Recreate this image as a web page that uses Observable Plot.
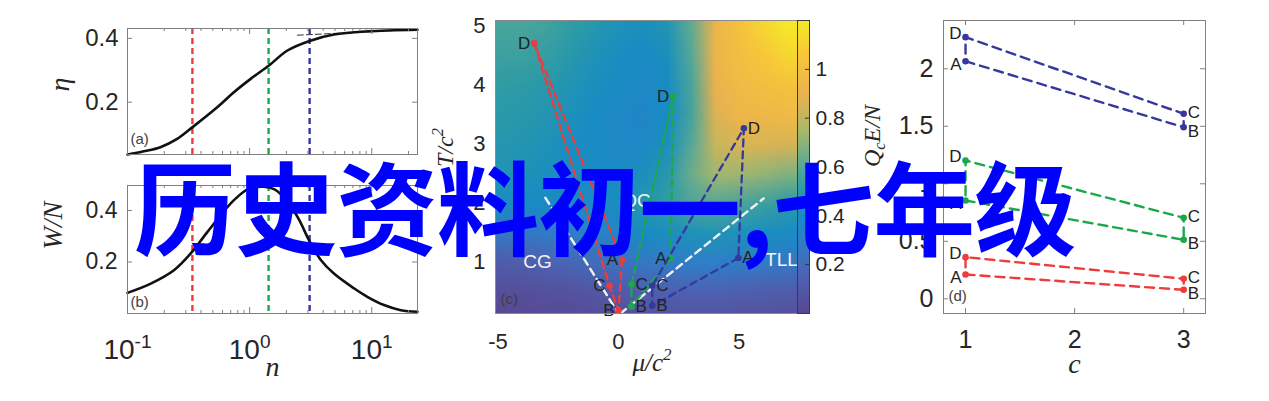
<!DOCTYPE html>
<html><head><meta charset="utf-8">
<script src="https://cdn.jsdelivr.net/npm/d3@7"></script>
<script src="https://cdn.jsdelivr.net/npm/@observablehq/plot@0.6"></script>
<style>
body{margin:0;background:#fff;}
#wrap{position:relative;width:1269px;height:401px;overflow:hidden;background:#fff;}
#wrap svg{position:absolute;left:0;top:0;}
#title{position:absolute;left:134px;top:153px;font-family:"Noto Sans CJK SC";font-weight:700;font-size:102px;letter-spacing:-1px;line-height:1;color:#0000ff;white-space:nowrap;z-index:10;}
</style></head>
<body><div id="wrap"><div id="title">历史资料初一,七年级</div></div>
<script>
// ---------- data ----------
// panel (a): efficiency eta vs n
const nEta = [0.1, 0.136, 0.186, 0.255, 0.339, 0.543, 0.743, 1.02, 1.44, 2.04, 3.1, 4.9, 9.2, 23.7];
const eta  = [0.036, 0.046, 0.059, 0.085, 0.121, 0.184, 0.231, 0.273, 0.315, 0.362, 0.392, 0.412, 0.422, 0.427];
const nAsym = [2.46, 23.7];
const etaAsym = [0.410, 0.428];
// panel (b): work W/N vs n
const nW = [0.1, 0.155, 0.24, 0.339, 0.45, 0.74, 0.98, 1.3, 1.6, 2.0, 2.5, 3.1, 3.8, 4.9, 7.2, 9.2, 12.6, 17.3, 23.7];
const wN = [0.080, 0.116, 0.168, 0.240, 0.316, 0.439, 0.484, 0.492, 0.482, 0.440, 0.370, 0.280, 0.210, 0.155, 0.097, 0.065, 0.033, 0.013, 0.007];
// the three cycles (red, green, blue)
const nCycle = [0.34, 1.43, 3.1];
const stages = ["A", "B", "C", "D"];
const muRed = [0.15, 0.0, -0.37, -3.49],  TRed = [1.03, 0.17, 0.59, 4.70];
const muGreen = [2.16, 0.54, 0.54, 2.27], TGreen = [1.05, 0.24, 0.61, 3.80];
const muBlue = [4.97, 1.40, 1.40, 5.20],  TBlue = [1.06, 0.25, 0.59, 3.26];
const cStage = [1, 3, 3, 1];
const dRed = [0.211, 0.078, 0.174, 0.362];
const dGreen = [0.855, 0.513, 0.704, 1.203];
const dBlue = [2.066, 1.492, 1.609, 2.275];
// panel (c) background map (rows from T=5 down to T=0, columns mu=-5..7)
const heatMu = [-5, -4, -3, -2, -1, 0, 1, 2, 3, 4, 5, 6, 7];
const heatT = [5.0, 4.5, 4.0, 3.5, 3.0, 2.5, 2.0, 1.5, 1.0, 0.5, 0.0];
const heatRows = [
  [.57, .57, .55, .51, .47, .44, .42, .45, .62, .92, 1.02, 1.12, 1.19],
  [.54, .54, .52, .48, .44, .41, .39, .42, .60, .92, 1.00, 1.06, 1.12],
  [.51, .50, .48, .45, .42, .39, .37, .40, .57, .90, .97, 1.00, 1.03],
  [.49, .48, .46, .43, .40, .37, .36, .40, .56, .87, .93, .95, .96],
  [.47, .46, .44, .41, .39, .37, .37, .42, .60, .82, .86, .86, .85],
  [.45, .44, .42, .40, .39, .39, .42, .48, .64, .74, .73, .71, .68],
  [.39, .39, .39, .38, .38, .41, .47, .51, .58, .60, .57, .54, .50],
  [.27, .28, .29, .31, .33, .36, .40, .42, .44, .45, .43, .41, .39],
  [.12, .13, .15, .18, .21, .24, .27, .29, .31, .31, .30, .29, .27],
  [.05, .05, .06, .07, .09, .11, .13, .14, .15, .15, .14, .13, .12],
  [.01, .01, .02, .02, .03, .04, .05, .05, .06, .06, .05, .05, .04]
];
const heatStops = [0, 0.15, 0.3, 0.4, 0.5, 0.6, 0.75, 0.9, 1.05, 1.2];
const heatColors = ["#5a4690", "#4d62b2", "#2f7dc8", "#178cc4", "#2c9ba6", "#55a898", "#aab86a", "#ebb24e", "#f7c53a", "#f6ea28"];
const leftBoundMu = [-3.03, 0.0], leftBoundT = [2.08, 0.12];
const rightBoundMu = [0.08, 6.02], rightBoundT = [0.12, 2.07];
const regionNames = ["CG", "QC", "TLL"];
const regionMu = [-3.36, 0.75, 6.76];
const regionT = [1.0, 2.03, 1.02];
// ticks
const logMajor = [0.1, 1, 10];
const logMinor = [0.2, 0.3, 0.4, 0.5, 0.6, 0.7, 0.8, 0.9, 2, 3, 4, 5, 6, 7, 8, 9, 20];
const yTicksAB = [0.2, 0.4];
const muTicks = [-5, 0, 5];
const TTicks = [1, 2, 3, 4, 5];
const barTicks = [0.2, 0.4, 0.6, 0.8, 1];
const cTicks = [1, 2, 3];
const dTicks = [0, 0.5, 1, 1.5, 2];

// ---------- style ----------
const W = 1269, H = 401;
const INK = "#262626", FRAME = "#808080";
const RED = "#ee3b3b", GREEN = "#1aa84c", BLUE = "#36389e";
const cycleColors = [RED, GREEN, BLUE];
const SANS = "'Liberation Sans', Arial, sans-serif";
const SERIF = "'Liberation Serif', 'DejaVu Serif', serif";
const wrap = document.getElementById("wrap");

function framed(l, r, t, b, extra) {
  return Object.assign({
    width: W, height: H, marginLeft: l, marginRight: W - r, marginTop: t, marginBottom: H - b,
    style: {background: "transparent", overflow: "visible", fontFamily: SANS, color: INK}
  }, extra);
}
function inX(values, len, fh, stroke = FRAME) {
  return [Plot.tickX(values, {insetTop: fh - len, stroke}), Plot.tickX(values, {insetBottom: fh - len, stroke})];
}
function inY(values, len, fw, stroke = FRAME) {
  return [Plot.tickY(values, {insetRight: fw - len, stroke}), Plot.tickY(values, {insetLeft: fw - len, stroke})];
}
function axisLabel(txt, anchor, dx, dy, size, rotate = 0) {
  return Plot.text([txt], {frameAnchor: anchor, dx, dy, rotate, fontFamily: SERIF, fontStyle: "italic", fontSize: size, fill: INK});
}
function tag(txt, dx, dy) {
  return Plot.text([txt], {frameAnchor: "bottom-left", dx, dy, textAnchor: "start", fontSize: 15, fill: "#404040"});
}
const pairs = (xs, ys) => xs.map((x, i) => [x, ys[i]]);
const plain = d => String(d);

// ---------- panel (a) ----------
const pa = Plot.plot(framed(127, 417, 28, 154, {
  x: {type: "log", domain: [0.1, 23.7], axis: null},
  y: {domain: [0.036, 0.431], axis: null},
  marks: [
    ...nCycle.map((n, i) => Plot.ruleX([n], {stroke: cycleColors[i], strokeWidth: 2.4, strokeDasharray: "6,4"})),
    Plot.line(pairs(nAsym, etaAsym), {stroke: "#333", strokeWidth: 1, strokeDasharray: "6,3"}),
    Plot.line(pairs(nEta, eta), {curve: "catmull-rom", stroke: "#111", strokeWidth: 2.6}),
    ...inX(logMajor, 6, 126), ...inX(logMinor, 3, 126), ...inY(yTicksAB, 5, 290),
    Plot.frame({stroke: FRAME}),
    Plot.axisY({ticks: yTicksAB, tickFormat: d => d.toFixed(1), tickSize: 0, tickPadding: 9, fontSize: 24, label: null}),
    axisLabel("η", "left", -67, 0, 28, -90),
    tag("(a)", 3, -11)
  ]
}));
wrap.append(pa);

// ---------- panel (b) ----------
const pb = Plot.plot(framed(127, 417, 185, 313, {
  x: {type: "log", domain: [0.1, 23.7], axis: null},
  y: {domain: [0, 0.497], axis: null},
  marks: [
    ...nCycle.map((n, i) => Plot.ruleX([n], {stroke: cycleColors[i], strokeWidth: 2.4, strokeDasharray: "6,4"})),
    Plot.line(pairs(nW, wN), {curve: "catmull-rom", stroke: "#111", strokeWidth: 2.6}),
    ...inX(logMajor, 6, 128), ...inX(logMinor, 3, 128), ...inY(yTicksAB, 5, 290),
    Plot.frame({stroke: FRAME}),
    Plot.axisY({ticks: yTicksAB, tickFormat: d => d.toFixed(1), tickSize: 0, tickPadding: 10, fontSize: 23, label: null}),
    Plot.axisX({ticks: logMajor, tickFormat: d => "10^{" + Math.round(Math.log10(d)) + "}", tickSize: 0, tickPadding: 26, fontSize: 28, label: null}),
    axisLabel("W/N", "left", -74, 0, 27, -90),
    axisLabel("n", "bottom", 0, 62, 28),
    tag("(b)", 3, -7)
  ]
}));
wrap.append(pb);

// ---------- panel (c) ----------
const colorOpts = {type: "linear", domain: heatStops, range: heatColors, clamp: true};
function cycleRows(mus, Ts) { return [0, 1, 2, 3, 0].map(i => ({x: mus[i], y: Ts[i]})); }
function pointRows(mus, Ts, sides) { return stages.map((s, i) => ({x: mus[i], y: Ts[i], s, side: sides[i]})); }
const cSets = [
  {mus: muRed, Ts: TRed, color: RED, sides: ["left", "left", "left", "left"]},
  {mus: muGreen, Ts: TGreen, color: GREEN, sides: ["left", "right", "right", "left"]},
  {mus: muBlue, Ts: TBlue, color: BLUE, sides: ["right", "right", "right", "right"]}
];
const cMarks = [];
for (const s of cSets) {
  const pts = pointRows(s.mus, s.Ts, s.sides);
  cMarks.push(
    Plot.line(cycleRows(s.mus, s.Ts), {x: "x", y: "y", stroke: s.color, strokeWidth: 2.3, strokeDasharray: "7,5"}),
    Plot.dot(pts, {x: "x", y: "y", r: 3.3, fill: s.color, stroke: null}),
    Plot.text(pts.filter(d => d.side === "left"), {x: "x", y: "y", text: "s", textAnchor: "end", dx: -4, fontSize: 17, fill: "#222"}),
    Plot.text(pts.filter(d => d.side === "right"), {x: "x", y: "y", text: "s", textAnchor: "start", dx: 4, fontSize: 17, fill: "#222"})
  );
}
const pc = Plot.plot(framed(495, 808, 20, 313, {
  x: {domain: [-5.1, 7.88], axis: null},
  y: {domain: [0.12, 5.085], axis: null},
  color: colorOpts,
  marks: [
    Plot.raster(heatRows.flat(), {width: heatMu.length, height: heatT.length,
      x1: heatMu[0] - 0.5, x2: heatMu[heatMu.length - 1] + 0.5,
      y1: heatT[0] + 0.25, y2: heatT[heatT.length - 1] - 0.25, fill: Plot.identity, clip: true}),
    Plot.line(pairs(leftBoundMu, leftBoundT), {stroke: "#f2f2f2", strokeWidth: 2.4, strokeDasharray: "7,5"}),
    Plot.line(pairs(rightBoundMu, rightBoundT), {stroke: "#f2f2f2", strokeWidth: 2.4, strokeDasharray: "7,5"}),
    Plot.text(regionNames.map((t, i) => ({t, x: regionMu[i], y: regionT[i]})), {x: "x", y: "y", text: "t", fill: "#f4f4f4", fontSize: 19}),
    ...cMarks,
    Plot.frame({stroke: "#8a8a8a"}),
    Plot.axisY({ticks: TTicks, tickFormat: plain, tickSize: 0, tickPadding: 10, fontSize: 22, label: null}),
    Plot.axisX({ticks: muTicks, tickFormat: plain, tickSize: 0, tickPadding: 20, fontSize: 22, label: null}),
    axisLabel("T/c^{2}", "left", -50, 0, 24, -90),
    axisLabel("μ/c^{2}", "bottom", 0, 57, 25),
    tag("(c)", 5, -10)
  ]
}));
wrap.append(pc);

// colorbar
const pbar = Plot.plot(framed(797, 809, 20, 313, {
  x: {domain: [0, 1], axis: null},
  y: {domain: [0, 1.2], axis: null},
  color: colorOpts,
  marks: [
    Plot.raster({x1: 0, x2: 1, y1: 0, y2: 1.2, fill: (x, y) => y}),
    Plot.tickY(barTicks, {insetLeft: 8, stroke: "#333"}),
    Plot.frame({stroke: "#3a3a3a"}),
    Plot.axisY({anchor: "right", ticks: barTicks, tickFormat: plain, tickSize: 0, tickPadding: 6, fontSize: 21, label: null})
  ]
}));
wrap.append(pbar);

// ---------- panel (d) ----------
const dSets = [
  {vals: dBlue, color: BLUE}, {vals: dGreen, color: GREEN}, {vals: dRed, color: RED}
];
const stageDy = {A: 3, B: 4, C: -1, D: -4};
const dMarks = [];
for (const s of dSets) {
  const pts = stages.map((st, i) => ({x: cStage[i], y: s.vals[i], st}));
  dMarks.push(
    Plot.line([0, 1, 2, 3, 0].map(i => pts[i]), {x: "x", y: "y", stroke: s.color, strokeWidth: 2.4, strokeDasharray: "9,6"}),
    Plot.dot(pts, {x: "x", y: "y", r: 3.3, fill: s.color, stroke: null})
  );
  for (const p of pts) {
    const left = p.x === 1;
    dMarks.push(Plot.text([p], {x: "x", y: "y", text: "st", textAnchor: left ? "end" : "start", dx: left ? -4 : 4, dy: stageDy[p.st], fontSize: 17, fill: "#222"}));
  }
}
const pd = Plot.plot(framed(943, 1205, 20, 313, {
  x: {domain: [0.798, 3.2], axis: null},
  y: {domain: [-0.128, 2.42], axis: null},
  marks: [
    ...inX(cTicks, 5, 293), ...inY(dTicks, 5, 262),
    ...dMarks,
    Plot.frame({stroke: FRAME}),
    Plot.axisY({ticks: dTicks, tickFormat: plain, tickSize: 0, tickPadding: 10, fontSize: 25, label: null}),
    Plot.axisX({ticks: cTicks, tickFormat: plain, tickSize: 0, tickPadding: 17, fontSize: 25, label: null}),
    axisLabel("Q_{c}E/N", "left", -71, 0, 24, -90),
    axisLabel("c", "bottom", 0, 59, 28),
    tag("(d)", 5, -13)
  ]
}));
wrap.append(pd);

// ---------- super/subscripts ----------
function richify(root) {
  root.querySelectorAll("text").forEach(t => {
    const s = t.textContent;
    if (!/[\^_]\{/.test(s)) return;
    const fs = parseFloat(getComputedStyle(t).fontSize) || 20;
    const parts = s.split(/([\^_]\{[^}]*\})/).filter(Boolean);
    t.textContent = "";
    let shift = 0;
    for (const p of parts) {
      const ts = document.createElementNS("http://www.w3.org/2000/svg", "tspan");
      let target = 0, txt = p, small = false;
      if (p.startsWith("^{")) { target = -0.42 * fs; txt = p.slice(2, -1); small = true; }
      else if (p.startsWith("_{")) { target = 0.22 * fs; txt = p.slice(2, -1); small = true; }
      ts.setAttribute("dy", target - shift);
      shift = target;
      if (small) ts.setAttribute("font-size", 0.68 * fs);
      ts.textContent = txt;
      t.appendChild(ts);
    }
  });
}
richify(wrap);
</script>
</body></html>
